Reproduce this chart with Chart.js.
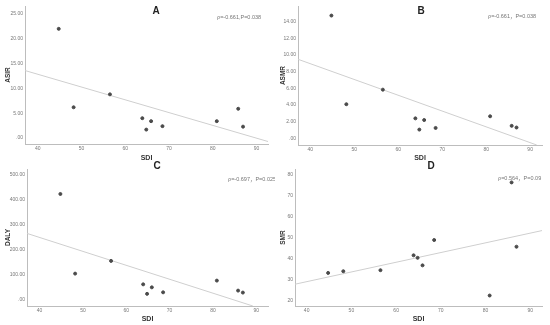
<!DOCTYPE html>
<html>
<head>
<meta charset="utf-8">
<script src="https://cdn.jsdelivr.net/npm/chart.js@4.4.1/dist/chart.umd.min.js"></script>
<style>
  body { margin: 0; background: #fff; }
  .panel { position: absolute; }
</style>
</head>
<body>
<div class="panel" style="left:0;top:0;width:275px;height:162px"><canvas id="chartA"></canvas></div>
<div class="panel" style="left:275px;top:0;width:275px;height:162px"><canvas id="chartB"></canvas></div>
<div class="panel" style="left:0;top:160px;width:275px;height:165px"><canvas id="chartC"></canvas></div>
<div class="panel" style="left:275px;top:160px;width:275px;height:165px"><canvas id="chartD"></canvas></div>
<script>
// SDI of the 10 countries (x values, same in all panels)
var sdi = [44.8, 48.2, 56.5, 63.9, 64.8, 65.9, 68.5, 80.9, 85.8, 86.9];
var asir = [22.0, 6.2, 8.8, 4.0, 1.7, 3.4, 2.4, 3.4, 5.9, 2.3];
var asmr = [14.75, 4.1, 5.85, 2.4, 1.05, 2.2, 1.25, 2.65, 1.5, 1.3];
var daly = [423, 104, 155, 61, 23, 49, 29, 76, 36, 28];
var smr = [33.1, 33.9, 34.4, 41.5, 40.3, 36.7, 48.8, 22.3, 76.3, 45.6];

// fit line end points
var fitA = [[37.1, 13.6], [92.6, -0.7]];
var fitB = [[37.2, 9.5], [91.5, -0.8]];
var fitC = [[37.1, 265], [89.2, -25.7]];
var fitD = [[37.4, 27.7], [92.6, 53.3]];

// tick labels
var xTicks = [40, 50, 60, 70, 80, 90];
var yTicksA = [0, 5, 10, 15, 20, 25];
var yTicksB = [0, 2, 4, 6, 8, 10, 12, 14];
var yTicksC = [0, 100, 200, 300, 400, 500];
var yTicksD = [20, 30, 40, 50, 60, 70, 80];

var FONT = '"Liberation Sans", Arial, "Noto Sans CJK SC", sans-serif';

// draws the panel letter and the correlation note
var panelText = {
    id: 'panelText',
    afterDraw: function(chart, args, o) {
        var ctx = chart.ctx;
        ctx.save();
        ctx.fillStyle = '#222';
        ctx.font = 'bold 10px ' + FONT;
        ctx.textAlign = 'center';
        ctx.textBaseline = 'middle';
        ctx.fillText(o.letter, o.lx, o.ly);
        ctx.fillStyle = '#777';
        ctx.font = '5.5px ' + FONT;
        ctx.textAlign = 'left';
        ctx.fillText(o.note, o.nx, o.ny);
        ctx.restore();
    }
};

function fmt2(v) {
    return v === 0 ? '.00' : v.toFixed(2);
}

function makePanel(id, p) {
    new Chart(document.getElementById(id), {
        type: 'scatter',
        data: {
            datasets: [{
                data: sdi.map(function(x, i) { return {x: x, y: p.values[i]}; }),
                backgroundColor: '#4a4a4a',
                borderColor: '#4a4a4a',
                pointRadius: 1.5
            }, {
                data: p.fit.map(function(d) { return {x: d[0], y: d[1]}; }),
                showLine: true,
                borderColor: '#cfcfcf',
                borderWidth: 1,
                pointRadius: 0
            }]
        },
        options: {
            responsive: true,
            maintainAspectRatio: false,
            animation: false,
            layout: { padding: { top: p.top, right: p.right } },
            plugins: {
                legend: { display: false },
                tooltip: { enabled: false },
                panelText: p.text
            },
            scales: {
                x: {
                    min: p.xmin, max: p.xmax,
                    grid: { display: false, drawTicks: false },
                    border: { color: '#bdbdbd' },
                    ticks: { font: { size: 5, family: FONT }, color: '#777', padding: 2, autoSkip: false, maxRotation: 0 },
                    afterBuildTicks: function(s) { s.ticks = xTicks.map(function(v) { return {value: v}; }); },
                    afterFit: function(s) { s.height = p.xh; },
                    title: { display: true, text: 'SDI', color: '#333', font: { size: 7, weight: 'bold', family: FONT }, padding: { top: 0, bottom: p.xtb } }
                },
                y: {
                    min: p.ymin, max: p.ymax,
                    grid: { display: false, drawTicks: false },
                    border: { color: '#bdbdbd' },
                    ticks: { font: { size: 5, family: FONT }, color: '#777', padding: 2, autoSkip: false, callback: p.fmt },
                    afterBuildTicks: function(s) { s.ticks = p.yTicks.map(function(v) { return {value: v}; }); },
                    afterFit: function(s) { s.width = p.yw; },
                    title: { display: true, text: p.ytitle, color: '#333', font: { size: 6.5, weight: 'bold', family: FONT }, padding: { top: 4, bottom: 0 } }
                }
            }
        },
        plugins: [panelText]
    });
}

makePanel('chartA', {
    values: asir, fit: fitA, yTicks: yTicksA, fmt: fmt2, ytitle: 'ASIR',
    xmin: 37.1, xmax: 92.6, ymin: -1.2, ymax: 26.6,
    top: 6, right: 7, xh: 18, xtb: 0, yw: 25,
    text: { letter: 'A', lx: 156, ly: 11, note: 'ρ=-0.661,P=0.038', nx: 217, ny: 17 }
});

makePanel('chartB', {
    values: asmr, fit: fitB, yTicks: yTicksB, fmt: fmt2, ytitle: 'ASMR',
    xmin: 37.2, xmax: 92.7, ymin: -0.8, ymax: 15.9,
    top: 6, right: 8, xh: 17, xtb: 0, yw: 23,
    text: { letter: 'B', lx: 146, ly: 11, note: 'ρ=-0.661，P=0.038', nx: 213, ny: 16 }
});

makePanel('chartC', {
    values: daly, fit: fitC, yTicks: yTicksC, fmt: fmt2, ytitle: 'DALY',
    xmin: 37.1, xmax: 92.7, ymin: -25.7, ymax: 523,
    top: 9, right: 7, xh: 19, xtb: 2, yw: 27,
    text: { letter: 'C', lx: 157, ly: 6, note: 'ρ=-0.697，P=0.025', nx: 228, ny: 19 }
});

makePanel('chartD', {
    values: smr, fit: fitD, yTicks: yTicksD, fmt: function(v) { return v; }, ytitle: 'SMR',
    xmin: 37.4, xmax: 92.6, ymin: 17.3, ymax: 82.7,
    top: 9, right: 8, xh: 19, xtb: 2, yw: 20,
    text: { letter: 'D', lx: 156, ly: 6, note: 'ρ=0.564，P=0.09', nx: 223, ny: 18 }
});
</script>
</body>
</html>
